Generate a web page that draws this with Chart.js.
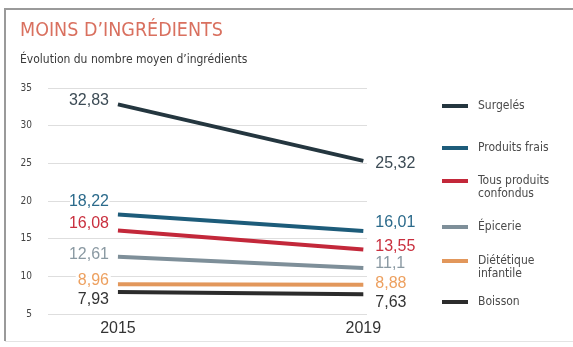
<!DOCTYPE html>
<html lang="fr">
<head>
<meta charset="utf-8">
<title>Moins d'ingrédients</title>
<script src="https://cdn.jsdelivr.net/npm/chart.js@4"></script>
<style>
  html, body { margin: 0; padding: 0; background: #fff; }
  #wrap { position: relative; width: 573px; height: 347px; }
  canvas { display: block; }
</style>
</head>
<body>
<div id="wrap"><canvas id="c" width="573" height="347"></canvas></div>
<script>
// Données : nombre moyen d'ingrédients, 2015 et 2019
const years = [2015, 2019];
const seriesNames = [
  ['Surgelés'],
  ['Produits frais'],
  ['Tous produits', 'confondus'],
  ['Épicerie'],
  ['Diététique', 'infantile'],
  ['Boisson']
];
const values2015 = [32.83, 18.22, 16.08, 12.61, 8.96, 7.93];
const values2019 = [25.32, 16.01, 13.55, 11.1, 8.88, 7.63];
const yTicks = [5, 10, 15, 20, 25, 30, 35];

// Couleurs des courbes et des étiquettes
const lineColors  = ['#24363f', '#1d5c7a', '#c3283a', '#7e8f99', '#e2975b', '#2c2c2c'];
const labelColors = ['#3c4b55', '#2b6a8b', '#c92f3e', '#8a99a2', '#eda05f', '#333333'];

// Décalages verticaux des étiquettes de valeur (px) pour éviter les chevauchements
const leftLabelShift  = [-4, -13, -7, -2, -4, 8];
const rightLabelShift = [3, -8, -3, -4, -1, 8];
// Position verticale des entrées de légende (px)
const legendRows = [106, 148, 181, 227, 261, 302];

const fmt = v => v.toString().replace('.', ',');

const datasets = seriesNames.map((name, i) => ({
  label: name.join(' '),
  data: [
    { x: years[0], y: values2015[i] },
    { x: years[1], y: values2019[i] }
  ],
  borderColor: lineColors[i],
  borderWidth: 4,
  pointRadius: 0,
  tension: 0,
  borderCapStyle: 'butt'
}));

const NUM_FONT = '"Liberation Sans", Arial, sans-serif';
const NARROW = '"DejaVu Sans Condensed", "Liberation Sans", sans-serif';

// Cadre, titre et sous-titre
const framePlugin = {
  id: 'frame',
  beforeDraw(chart) {
    const ctx = chart.ctx;
    ctx.save();
    ctx.fillStyle = '#ffffff';
    ctx.fillRect(0, 0, chart.width, chart.height);
    ctx.strokeStyle = '#9a9a9a';
    ctx.lineWidth = 2;
    ctx.beginPath();
    ctx.moveTo(5, 341);
    ctx.lineTo(5, 9);
    ctx.lineTo(chart.width, 9);
    ctx.stroke();
    ctx.strokeStyle = '#e4e4e4';
    ctx.lineWidth = 1;
    ctx.beginPath();
    ctx.moveTo(5, 341.5);
    ctx.lineTo(chart.width, 341.5);
    ctx.stroke();

    ctx.fillStyle = '#d9705f';
    ctx.textBaseline = 'alphabetic';
    ctx.textAlign = 'left';
    ctx.font = '19.5px ' + NARROW;
    ctx.fillText('MOINS D\u2019INGRÉDIENTS', 20, 36);

    ctx.fillStyle = '#3a3a3a';
    ctx.font = '12px ' + NARROW;
    ctx.fillText('Évolution du nombre moyen d\u2019ingrédients', 20, 63);
    ctx.restore();
  }
};

// Étiquettes de valeur aux extrémités et légende à droite
const labelsPlugin = {
  id: 'valueLabels',
  afterDatasetsDraw(chart) {
    const ctx = chart.ctx;
    const xs = chart.scales.x, ys = chart.scales.y;
    ctx.save();
    ctx.font = '16px ' + NUM_FONT;
    ctx.textBaseline = 'middle';
    ctx.lineJoin = 'round';
    datasets.forEach((ds, i) => {
      const x0 = xs.getPixelForValue(years[0]);
      const x1 = xs.getPixelForValue(years[1]);
      const y0 = ys.getPixelForValue(values2015[i]) + leftLabelShift[i];
      const y1 = ys.getPixelForValue(values2019[i]) + rightLabelShift[i];
      const t0 = fmt(values2015[i]), t1 = fmt(values2019[i]);
      ctx.strokeStyle = '#ffffff';
      ctx.lineWidth = 6;
      ctx.textAlign = 'right';
      ctx.strokeText(t0, x0 - 9, y0);
      ctx.fillStyle = labelColors[i];
      ctx.fillText(t0, x0 - 9, y0);
      ctx.textAlign = 'left';
      ctx.strokeText(t1, x1 + 12, y1);
      ctx.fillText(t1, x1 + 12, y1);
    });

    // Légende
    ctx.font = '12px ' + NARROW;
    ctx.textAlign = 'left';
    seriesNames.forEach((name, i) => {
      const y = legendRows[i];
      ctx.strokeStyle = lineColors[i];
      ctx.lineWidth = 4;
      ctx.beginPath();
      ctx.moveTo(442, y);
      ctx.lineTo(468, y);
      ctx.stroke();
      ctx.fillStyle = '#4a4a4a';
      name.forEach((line, k) => ctx.fillText(line, 478, y + k * 13));
    });
    ctx.restore();
  }
};

new Chart(document.getElementById('c'), {
  type: 'line',
  data: { datasets },
  options: {
    responsive: false,
    animation: false,
    events: [],
    layout: { padding: { left: 0, top: 88, right: 206, bottom: 0 } },
    plugins: { legend: { display: false }, tooltip: { enabled: false }, title: { display: false } },
    scales: {
      x: {
        type: 'linear',
        min: years[0] - 1.14,
        max: years[1] + 0.06,
        afterBuildTicks(scale) { scale.ticks = years.map(v => ({ value: v })); },
        afterFit(scale) { scale.height = 33; },
        grid: { display: false, drawTicks: false },
        border: { display: false },
        ticks: {
          padding: 5,
          color: '#333333',
          font: { family: NUM_FONT, size: 16 },
          callback: v => String(v)
        }
      },
      y: {
        min: yTicks[0],
        max: yTicks[yTicks.length - 1],
        afterBuildTicks(scale) { scale.ticks = yTicks.map(v => ({ value: v })); },
        afterFit(scale) { scale.width = 48; },
        grid: { color: '#dedede', lineWidth: 1, drawTicks: false },
        border: { display: false },
        ticks: {
          padding: 16,
          color: '#444444',
          font: { family: NARROW, size: 10 }
        }
      }
    }
  },
  plugins: [framePlugin, labelsPlugin]
});
</script>
</body>
</html>
